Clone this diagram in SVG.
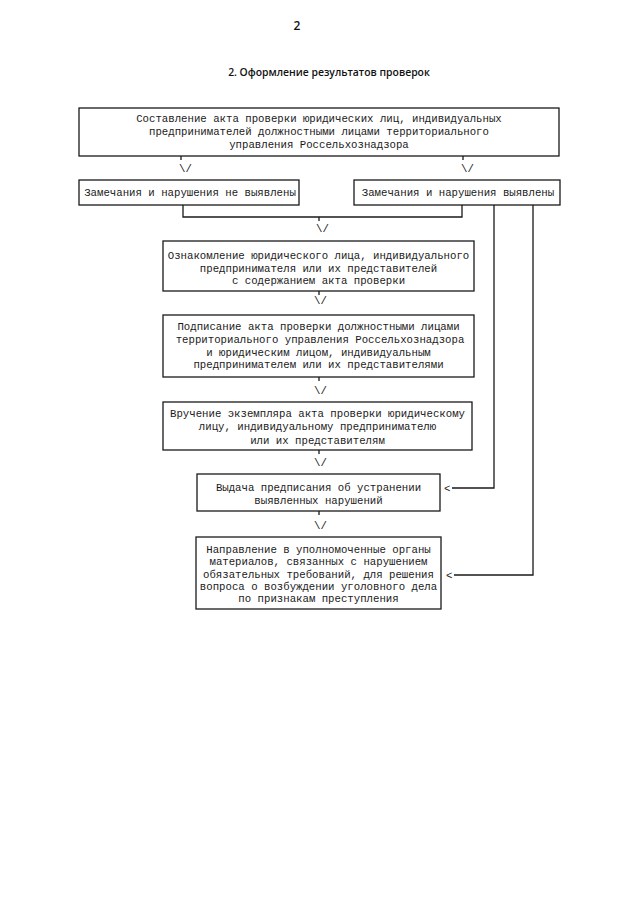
<svg xmlns="http://www.w3.org/2000/svg" width="640" height="905" viewBox="0 0 640 905">
<style>
.box{fill:#fff;stroke:#1a1a1a;stroke-width:1.3}
.ln{fill:none;stroke:#1a1a1a;stroke-width:1.3}
.t{font-family:"Liberation Mono","Courier New",monospace;font-size:10.7px;fill:#1a1a1a;text-anchor:middle}
.a{font-family:"Liberation Mono","Courier New",monospace;font-size:10.7px;fill:#1a1a1a}
.h{font-family:"Open Sans","Liberation Sans",sans-serif;font-weight:600;fill:#111}
</style>
<rect width="640" height="905" fill="#fff"/>
<text class="h" x="297" y="30" font-size="12" text-anchor="middle">2</text>
<text class="h" x="329" y="76" font-size="10.4" text-anchor="middle">2.  Оформление результатов проверок</text>

<g id="connectors">
<line class="ln" x1="181" y1="156" x2="181" y2="160"/>
<text class="a" x="179" y="172">\/</text>
<line class="ln" x1="463" y1="156" x2="463" y2="160"/>
<text class="a" x="461" y="172">\/</text>
<polyline class="ln" points="183,205 183,217 462,217 462,205"/>
<line class="ln" x1="319" y1="217" x2="319" y2="221"/>
<text class="a" x="316" y="232">\/</text>
<line class="ln" x1="319" y1="291" x2="319" y2="295"/>
<text class="a" x="314" y="304">\/</text>
<line class="ln" x1="319" y1="377" x2="319" y2="381"/>
<text class="a" x="314" y="394">\/</text>
<line class="ln" x1="319" y1="450" x2="319" y2="454"/>
<text class="a" x="314" y="466">\/</text>
<line class="ln" x1="319" y1="511" x2="319" y2="515"/>
<text class="a" x="314" y="529">\/</text>
<polyline class="ln" points="494,205 494,488 452,488"/>
<text class="a" x="444" y="491.5">&lt;</text>
<polyline class="ln" points="533,205 533,575 454,575"/>
<text class="a" x="446" y="578.5">&lt;</text>
</g>

<g id="n1">
<rect class="box" x="79" y="108" width="480" height="48"/>
<text class="t" x="319" y="122">Составление акта проверки юридических лиц, индивидуальных</text>
<text class="t" x="319" y="135">предпринимателей должностными лицами территориального</text>
<text class="t" x="319" y="148">управления Россельхознадзора</text>
</g>
<g id="n2">
<rect class="box" x="79" y="180" width="220" height="25"/>
<text class="t" x="190" y="196">Замечания и нарушения не выявлены</text>
</g>
<g id="n3">
<rect class="box" x="354" y="180" width="206" height="25"/>
<text class="t" x="458" y="196">Замечания и нарушения выявлены</text>
</g>
<g id="n4">
<rect class="box" x="163" y="241" width="311" height="50"/>
<text class="t" x="318.5" y="259">Ознакомление юридического лица, индивидуального</text>
<text class="t" x="318.5" y="272">предпринимателя или их представителей</text>
<text class="t" x="318.5" y="284">с содержанием акта проверки</text>
</g>
<g id="n5">
<rect class="box" x="163" y="315" width="311" height="62"/>
<text class="t" x="318.5" y="330">Подписание акта проверки должностными лицами</text>
<text class="t" x="320" y="343">территориального управления Россельхознадзора</text>
<text class="t" x="318.5" y="356">и юридическим лицом, индивидуальным</text>
<text class="t" x="318.5" y="368">предпринимателем или их представителями</text>
</g>
<g id="n6">
<rect class="box" x="163" y="402" width="309" height="48"/>
<text class="t" x="317.5" y="417">Вручение экземпляра акта проверки юридическому</text>
<text class="t" x="317.5" y="430">лицу, индивидуальному предпринимателю</text>
<text class="t" x="317.5" y="444">или их представителям</text>
</g>
<g id="n7">
<rect class="box" x="197" y="474" width="243" height="37"/>
<text class="t" x="318.5" y="491">Выдача предписания об устранении</text>
<text class="t" x="318.5" y="504">выявленных нарушений</text>
</g>
<g id="n8">
<rect class="box" x="196" y="537" width="245" height="72"/>
<text class="t" x="318.5" y="553">Направление в уполномоченные органы</text>
<text class="t" x="318.5" y="565">материалов, связанных с нарушением</text>
<text class="t" x="318.5" y="578">обязательных требований, для решения</text>
<text class="t" x="318.5" y="590">вопроса о возбуждении уголовного дела</text>
<text class="t" x="318.5" y="602">по признакам преступления</text>
</g>
</svg>
